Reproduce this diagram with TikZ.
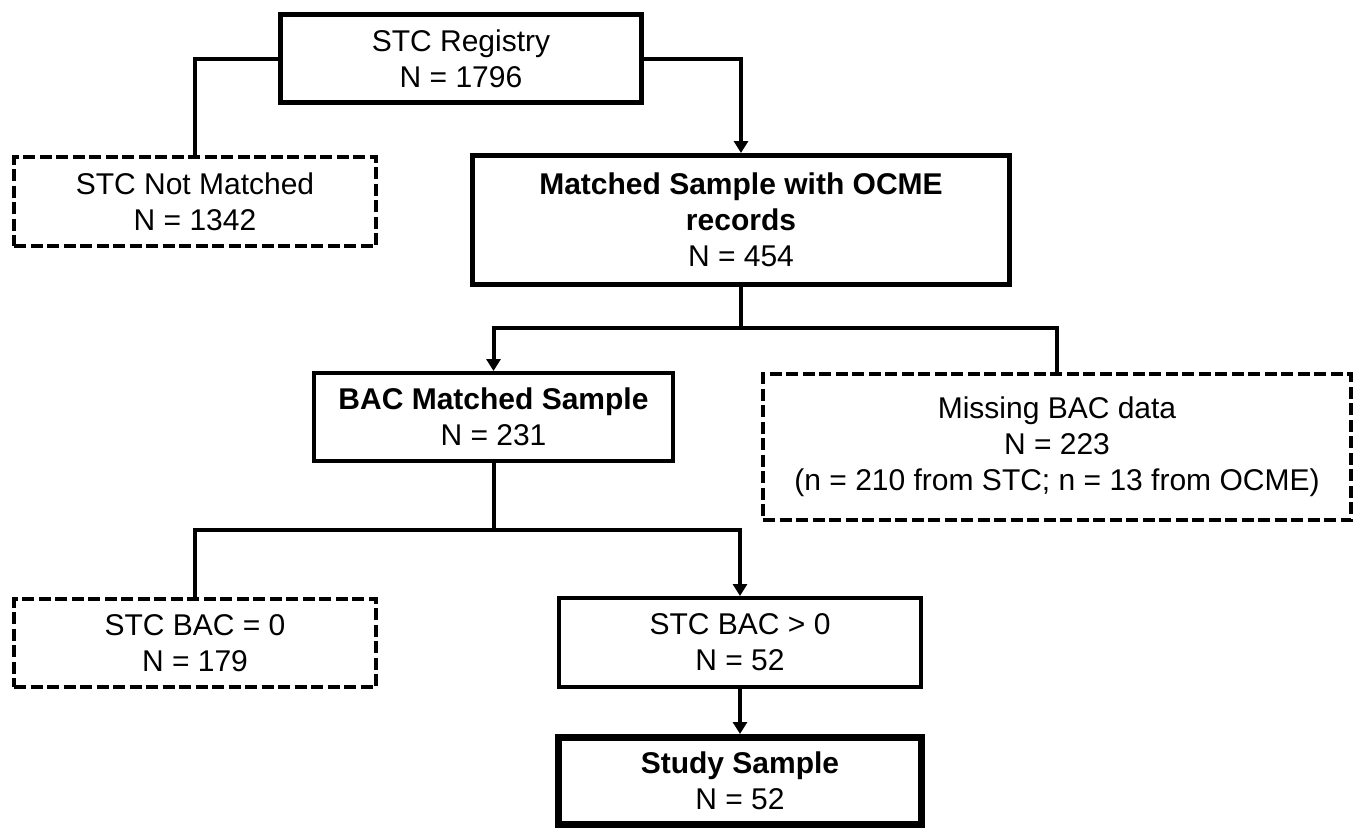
\documentclass[tikz,border=0pt]{standalone}
\usepackage{fontspec}
\setmainfont{Liberation Sans}
\usetikzlibrary{arrows.meta}
\begin{document}
\begin{tikzpicture}[x=1pt,y=-1pt,
  every node/.style={font=\fontsize{30pt}{36pt}\selectfont, align=center, inner sep=0pt},
  solidbox/.style={draw=black, line width=#1, fill=white},
  solidbox/.default=5pt,
  dashbox/.style={draw=black, line width=4pt, dash pattern=on 12pt off 4.5pt, fill=white},
  conn/.style={draw=black, line width=4pt},
  arr/.style={conn, -{Triangle[width=14pt,length=12pt]}}
]
\useasboundingbox (0,0) rectangle (1362,831);
\fill[white] (0,0) rectangle (1362,831);

\node[solidbox, minimum width=361pt, minimum height=88pt] (reg) at (461,58.5) {STC Registry\\N = 1796};
\node[dashbox, minimum width=362pt, minimum height=89pt] (notm) at (195,201.5) {STC Not Matched\\N = 1342};
\node[solidbox, minimum width=537pt, minimum height=129pt] (match) at (741,220) {\textbf{Matched Sample with OCME}\\\textbf{records}\\N = 454};
\node[solidbox=4pt, minimum width=359pt, minimum height=88pt] (bac) at (493.5,417) {\textbf{BAC Matched Sample}\\N = 231};
\node[dashbox, minimum width=588pt, minimum height=146pt] (miss) at (1057,447) {Missing BAC data\\N = 223\\(n = 210 from STC; n = 13 from OCME)};
\node[dashbox, minimum width=362pt, minimum height=88pt] (zero) at (195,643) {STC BAC = 0\\N = 179};
\node[solidbox=4pt, minimum width=362pt, minimum height=89pt] (pos) at (740,642.5) {STC BAC > 0\\N = 52};
\node[solidbox=7pt, minimum width=363pt, minimum height=87pt] (study) at (740,781) {\textbf{Study Sample}\\N = 52};

\coordinate (j1) at (741,328);
\coordinate (j2) at (493.5,530);

\draw[conn] (reg.west) -| (notm.north);
\draw[arr] (reg.east) -| (match.north);
\draw[conn] (match.south) -- (j1);
\draw[arr] (j1) -| (bac.north);
\draw[conn] (j1) -| (miss.north);
\draw[conn] (bac.south) -- (j2);
\draw[conn] (j2) -| (zero.north);
\draw[arr] (j2) -| (pos.north);
\draw[arr] (pos.south) -- (study.north);
\end{tikzpicture}
\end{document}
